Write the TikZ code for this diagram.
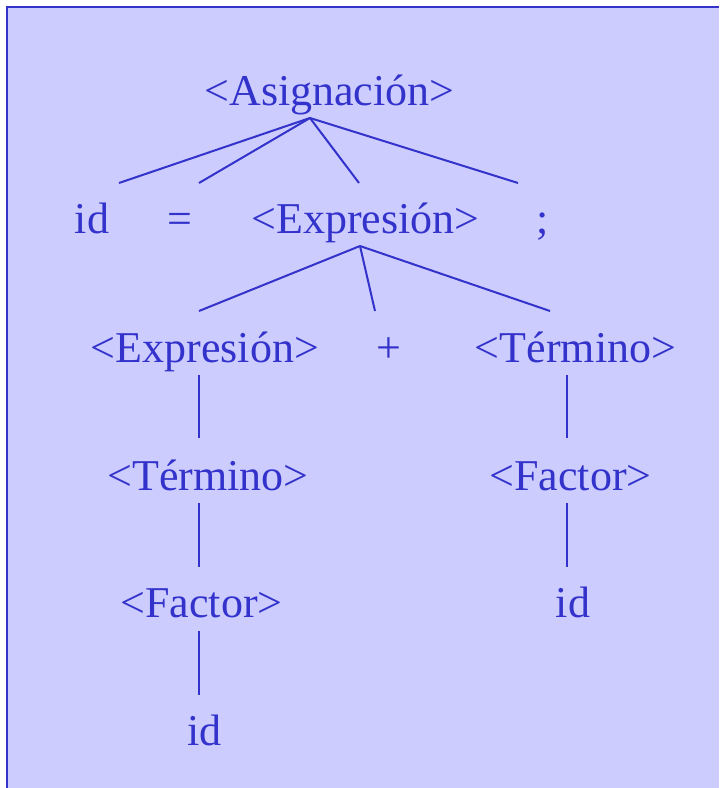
\documentclass[tikz,border=0pt]{standalone}
\usepackage{fontspec}
\setmainfont{Liberation Serif}
\usepackage{xcolor}
\usepackage{tikz}
\usetikzlibrary{calc}
\definecolor{tinta}{RGB}{51,51,204}
\definecolor{lavanda}{RGB}{204,204,255}

\begin{document}
\begin{tikzpicture}[
  x=0.75pt, y=-0.75pt,
  sym/.style={
    text=tinta, anchor=base, inner sep=0pt,
    font=\fontsize{33}{39}\selectfont
  },
  rama/.style={draw=tinta, line width=1.5pt}
]
\useasboundingbox (0,0) rectangle (719,788);
\fill[lavanda] (7,7) rectangle (719,788);
\draw[tinta, line width=2.2pt] (7,788) -- (7,7) -- (719,7);

\node[sym] (asig) at (329.5,106) {<Asignación>};
\node[sym] (id1) at (92,233) {id};
\node[sym] (igual) at (180,233) {=};
\node[sym] (expr1) at (365.5,233) {<Expresión>};
\node[sym] (pcoma) at (543,233) {;};
\node[sym] (expr2) at (205,362) {<Expresión>};
\node[sym] (mas) at (389,362) {+};
\node[sym] (term1) at (575.5,362) {<Término>};
\node[sym] (term2) at (208,490) {<Término>};
\node[sym] (fact2) at (570.5,490) {<Factor>};
\node[sym] (fact1) at (201.5,617) {<Factor>};
\node[sym] (id2) at (573,617) {id};
\node[sym] (id3) at (204.5,745) {id};

\draw[rama] ($(asig.base)+(-19.5,12)$) -- ($(id1.base)+(27,-50)$);
\draw[rama] ($(asig.base)+(-19.5,12)$) -- ($(igual.base)+(19,-50)$);
\draw[rama] ($(asig.base)+(-19.5,12)$) -- ($(expr1.base)+(-6.5,-50)$);
\draw[rama] ($(asig.base)+(-19.5,12)$) -- ($(pcoma.base)+(-25,-50)$);
\draw[rama] ($(expr1.base)+(-5.5,13)$) -- ($(expr2.base)+(-6,-51)$);
\draw[rama] ($(expr1.base)+(-5.5,13)$) -- ($(mas.base)+(-14,-51)$);
\draw[rama] ($(expr1.base)+(-5.5,13)$) -- ($(term1.base)+(-25.5,-51)$);
\draw[rama] ($(expr2.base)+(-6,13)$) -- ($(term2.base)+(-9,-52)$);
\draw[rama] ($(term2.base)+(-9,13)$) -- ($(fact1.base)+(-2.5,-50)$);
\draw[rama] ($(fact1.base)+(-2.5,14)$) -- ($(id3.base)+(-5.5,-50)$);
\draw[rama] ($(term1.base)+(-8.5,13)$) -- ($(fact2.base)+(-3.5,-52)$);
\draw[rama] ($(fact2.base)+(-3.5,13)$) -- ($(id2.base)+(-6,-50)$);
\end{tikzpicture}
\end{document}
